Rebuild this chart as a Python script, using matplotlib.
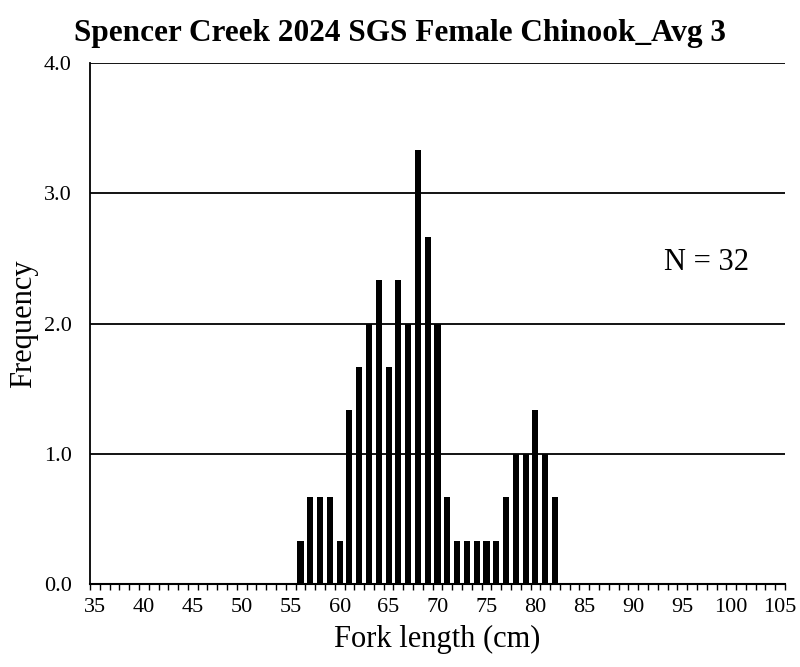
import matplotlib
matplotlib.use('Agg')
import matplotlib.pyplot as plt

# fork length categories (cm) and averaged counts
lengths = list(range(35, 106))
bar_lengths = list(range(56, 83))
bar_freq = [1/3, 2/3, 2/3, 2/3, 1/3, 4/3, 5/3, 2, 7/3, 5/3, 7/3, 2, 10/3, 8/3, 2,
            2/3, 1/3, 1/3, 1/3, 1/3, 1/3, 2/3, 1, 1, 4/3, 1, 2/3]
y_ticks = [0, 1, 2, 3, 4]
n_total = 32

plt.rcParams['font.family'] = ['Liberation Serif', 'DejaVu Serif']

fig = plt.figure(figsize=(8, 6.67), dpi=100)
ax = fig.add_axes([0.1125, 0.1244, 0.8688, 0.7811])

pos = [lengths.index(v) for v in bar_lengths]
ax.bar(pos, bar_freq, width=0.62, color='black', zorder=3)

ax.set_xlim(-0.5, len(lengths) - 0.5)
ax.set_ylim(0, 4)
ax.set_yticks(y_ticks)
ax.set_yticklabels([f'{t:.1f}' for t in y_ticks], fontsize=16)
ax.yaxis.grid(True, color='black', linewidth=1.3, zorder=1)
ax.tick_params(axis='y', length=0, pad=13)

lab_pos = [i for i, v in enumerate(lengths) if v % 5 == 0]
ax.set_xticks(lab_pos)
ax.set_xticklabels([str(lengths[i]) for i in lab_pos], fontsize=16)
ax.set_xticks([i - 0.5 for i in range(len(lengths) + 1)], minor=True)
ax.tick_params(axis='x', which='major', length=0, pad=10)
ax.tick_params(axis='x', which='minor', length=4, width=1, direction='out')

for s in ['top', 'right']:
    ax.spines[s].set_visible(False)
ax.spines['left'].set_linewidth(1.3)
ax.spines['bottom'].set_linewidth(1.5)
ax.spines['bottom'].set_zorder(4)

ax.set_xlabel('Fork length (cm)', fontsize=22, labelpad=6)
ax.set_ylabel('Frequency', fontsize=22, labelpad=4)
ax.set_title('Spencer Creek 2024 SGS Female Chinook_Avg 3', fontsize=22.5,
             fontweight='bold', pad=16, x=0.446)
ax.text(0.887, 0.617, f'N = {n_total}', transform=ax.transAxes, fontsize=22,
        ha='center', va='center')

fig.savefig('out.png', dpi=100)
